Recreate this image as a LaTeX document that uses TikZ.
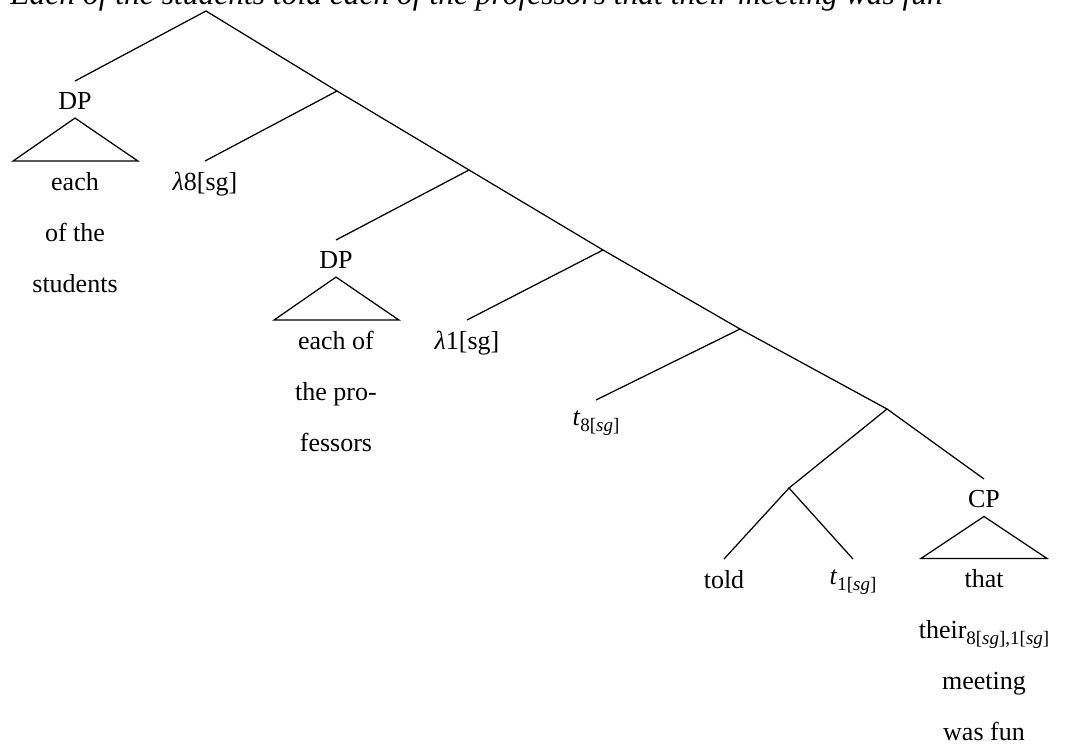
\documentclass[tikz,border=0pt]{standalone}
\usepackage{fontspec}
\setmainfont{Liberation Serif}
\usetikzlibrary{positioning}

\newcommand{\lbl}{\fontsize{10.4}{20.4}\selectfont}
\newcommand{\lowidx}[1]{\raisebox{-0.5ex}{\fontsize{7.6}{8}\selectfont #1}}

\tikzset{
  leaf/.style={anchor=north, inner sep=4.2pt, font=\lbl, align=center},
  branch/.style={line width=0.5pt},
}

\begin{document}
\begin{tikzpicture}[x=0.4pt, y=-0.4pt]
\useasboundingbox (0,0) rectangle (1070,746);

% sentence
\node (sent) [anchor=base west, inner sep=0pt, font=\itshape\fontsize{12.6}{15}\selectfont] at (10,4.5)
  {Each of the students told each of the professors that their meeting was fun};

% inner nodes
\coordinate (root) at (206,11);
\coordinate (n1) at (337,91);
\coordinate (n2) at (469,170);
\coordinate (n3) at (603,250);
\coordinate (n4) at (740,329);
\coordinate (n5) at (887,409);
\coordinate (n6) at (789,488);

% leaves
\node (dpa) [leaf] at (75,81) {DP};
\node (lama) [leaf] at (205,161) {\textit{λ}8[sg]};
\node (dpb) [leaf] at (336,240) {DP};
\node (lamb) [leaf] at (467,320) {\textit{λ}1[sg]};
\node (tra) [leaf] at (596,400) {\textit{t}\lowidx{8[\textit{sg}]}};
\node (told) [leaf] at (724,559) {told};
\node (trb) [leaf] at (853,559) {\textit{t}\lowidx{1[\textit{sg}]}};
\node (cp) [leaf] at (984,479) {CP};

% roofs
\draw [branch] ([yshift=0.8pt]dpa.south) -- ++(-62,43) coordinate (roofa) -- ++(125,0) -- cycle;
\draw [branch] ([yshift=0.8pt]dpb.south) -- ++(-62,43) coordinate (roofb) -- ++(125,0) -- cycle;
\draw [branch] ([yshift=0.8pt]cp.south) -- ++(-63,42) coordinate (roofc) -- ++(126,0) -- cycle;

\node (stud) [leaf] at (dpa.south |- roofa) {each\\of the\\students};
\node (prof) [leaf] at (dpb.south |- roofb) {each of\\the pro-\\fessors};
\node (that) [leaf] at (cp.south |- roofc) {that\\their\lowidx{8[\textit{sg}],1[\textit{sg}]}\\meeting\\was fun};

% branches
\draw [branch] (dpa.north) -- (root) -- (n1);
\draw [branch] (lama.north) -- (n1) -- (n2);
\draw [branch] (dpb.north) -- (n2) -- (n3);
\draw [branch] (lamb.north) -- (n3) -- (n4);
\draw [branch] (tra.north) -- (n4) -- (n5);
\draw [branch] (n6) -- (n5) -- (cp.north);
\draw [branch] (told.north) -- (n6) -- (trb.north);
\end{tikzpicture}
\end{document}
